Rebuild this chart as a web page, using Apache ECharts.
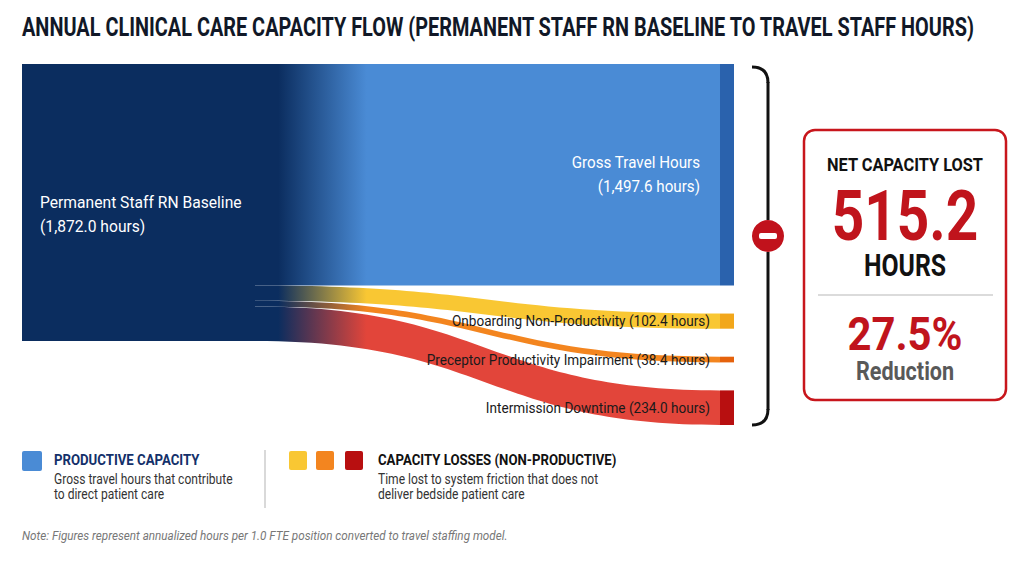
<!DOCTYPE html>
<html><head><meta charset="utf-8">
<script src="https://cdn.jsdelivr.net/npm/echarts@6/dist/echarts.min.js"></script>
<style>html,body{margin:0;padding:0;background:#fff}#chart{width:1024px;height:562px}</style>
</head><body><div id="chart"></div>
<script>
// ---------- data ----------
const titleText = 'ANNUAL CLINICAL CARE CAPACITY FLOW (PERMANENT STAFF RN BASELINE TO TRAVEL STAFF HOURS)';
const sourceName = 'Permanent Staff RN Baseline';
const sourceHours = 1872.0;
const targetNames = ['Gross Travel Hours', 'Onboarding Non-Productivity', 'Preceptor Productivity Impairment', 'Intermission Downtime'];
const targetHours = [1497.6, 102.4, 38.4, 234.0];
const flowColors = ['#4a8bd5', '#f9c733', '#f3851f', '#e2453a'];
const nodeColors = ['#2a62ad', '#f2a71b', '#e5620c', '#b80f10'];
const netLostHours = 515.2;
const reductionPct = 27.5;
const legendTitles = ['PRODUCTIVE CAPACITY', 'CAPACITY LOSSES (NON-PRODUCTIVE)'];
const legendTexts = ['Gross travel hours that contribute\nto direct patient care', 'Time lost to system friction that does not\ndeliver bedside patient care'];
const noteText = 'Note: Figures represent annualized hours per 1.0 FTE position converted to travel staffing model.';

// ---------- layout ----------
const NAVY = '#0b2d5f';
const FONT = 'Roboto, "Noto Sans", sans-serif';
const gridTop = 64, gridBottom = 137, chartH = 562;
const gridH = chartH - gridTop - gridBottom;
const gapPx = 28;
const sumT = targetHours.reduce((a, b) => a + b, 0);
const yMax = sumT / (1 - (targetHours.length - 1) * gapPx / gridH);
const gapH = gapPx * yMax / gridH;
const SRC_X1 = 233 / 712, NODE_X0 = 698 / 712;

const fmt = v => v.toLocaleString('en-US', {minimumFractionDigits: 1, maximumFractionDigits: 1});

let sCum = 0, tCum = 0;
const linkData = targetHours.map((v, i) => {
  const row = [i, sCum, sCum + v, tCum, tCum + v];
  sCum += v; tCum += v + gapH;
  return row;
});

const chart = echarts.init(document.getElementById('chart'), null, {renderer: 'svg'});

function txt(x, y, text, font, fill, opts) {
  opts = opts || {};
  return {type: 'text', x: x, y: y, scaleX: opts.sx || 1, z: 10,
    style: {text: text, x: 0, y: 0, font: font, fill: fill, align: opts.align || 'left',
      verticalAlign: opts.va || 'middle', lineHeight: opts.lh}};
}

const bracketStyle = {stroke: '#111', lineWidth: 3, fill: null};
const graphics = [
  txt(22, 28, titleText, 'bold 25px ' + FONT, '#111827', {sx: 0.796}),
  // bracket
  {type: 'bezierCurve', shape: {x1: 752, y1: 67, cpx1: 768, cpy1: 67, x2: 768, y2: 83}, style: bracketStyle},
  {type: 'line', shape: {x1: 768, y1: 82, x2: 768, y2: 220}, style: bracketStyle},
  {type: 'line', shape: {x1: 768, y1: 252, x2: 768, y2: 410}, style: bracketStyle},
  {type: 'bezierCurve', shape: {x1: 768, y1: 409, cpx1: 768, cpy1: 425, x2: 752, y2: 425}, style: bracketStyle},
  {type: 'circle', shape: {cx: 768, cy: 236, r: 16}, style: {fill: '#c1121c'}},
  {type: 'rect', shape: {x: 759, y: 233, width: 18, height: 6, r: 2}, style: {fill: '#fff'}},
  // result box
  {type: 'rect', shape: {x: 804, y: 130, width: 202, height: 270, r: 11}, style: {fill: '#fff', stroke: '#c8161c', lineWidth: 2.5}},
  txt(905, 165, 'NET CAPACITY LOST', 'bold 18px ' + FONT, '#111', {align: 'center', sx: 0.91}),
  txt(905, 216, fmt(netLostHours), 'bold 70px ' + FONT, '#c0141c', {align: 'center', sx: 0.81}),
  txt(905, 266, 'HOURS', 'bold 31px ' + FONT, '#111', {align: 'center', sx: 0.8}),
  {type: 'line', shape: {x1: 818, y1: 295, x2: 993, y2: 295}, style: {stroke: '#cfcfcf', lineWidth: 1.5}},
  txt(905, 334, fmt(reductionPct) + '%', 'bold 47px ' + FONT, '#c0141c', {align: 'center', sx: 0.89}),
  txt(905, 371, 'Reduction', 'bold 26px ' + FONT, '#595959', {align: 'center', sx: 0.83}),
  // legend
  {type: 'rect', shape: {x: 22, y: 451, width: 20, height: 20, r: 2}, style: {fill: flowColors[0]}},
  txt(54, 460, legendTitles[0], 'bold 15px ' + FONT, '#13306a', {sx: 0.88}),
  txt(54, 487, legendTexts[0], '14px ' + FONT, '#333', {sx: 0.86, lh: 15}),
  {type: 'line', shape: {x1: 265, y1: 450, x2: 265, y2: 508}, style: {stroke: '#cccccc', lineWidth: 1.5}},
  {type: 'rect', shape: {x: 289, y: 451, width: 18, height: 19, r: 2}, style: {fill: flowColors[1]}},
  {type: 'rect', shape: {x: 316, y: 451, width: 18, height: 19, r: 2}, style: {fill: flowColors[2]}},
  {type: 'rect', shape: {x: 345, y: 451, width: 18, height: 19, r: 2}, style: {fill: nodeColors[3]}},
  txt(378, 460, legendTitles[1], 'bold 15px ' + FONT, '#111', {sx: 0.88}),
  txt(378, 487, legendTexts[1], '14px ' + FONT, '#333', {sx: 0.86, lh: 15}),
  txt(22, 536, noteText, 'italic 13px ' + FONT, '#777', {sx: 0.9})
];

chart.setOption({
  animation: false,
  backgroundColor: '#fff',
  grid: {left: 22, right: 290, top: gridTop, bottom: gridBottom},
  xAxis: {type: 'value', min: 0, max: 1, show: false},
  yAxis: {type: 'value', min: 0, max: yMax, inverse: true, show: false},
  graphic: graphics,
  series: [
    {
      type: 'custom', name: 'Source', data: [[0, 0, sourceHours]],
      renderItem: function (params, api) {
        const p0 = api.coord([0, api.value(1)]);
        const p1 = api.coord([SRC_X1, api.value(2)]);
        return {type: 'group', children: [
          {type: 'rect', shape: {x: p0[0], y: p0[1], width: p1[0] - p0[0], height: p1[1] - p0[1]}, style: {fill: NAVY}},
          {type: 'text', x: p0[0] + 18, y: (p0[1] + p1[1]) / 2 + 12, scaleX: 0.92,
            style: {text: sourceName + '\n(' + fmt(sourceHours) + ' hours)', x: 0, y: 0, fill: '#fff',
              font: '17px ' + FONT, verticalAlign: 'middle', align: 'left', lineHeight: 24}}
        ]};
      }
    },
    {
      type: 'custom', name: 'Flows', data: linkData,
      renderItem: function (params, api) {
        const i = api.value(0);
        const a0 = api.coord([SRC_X1, api.value(1)]);
        const a1 = api.coord([SRC_X1, api.value(2)]);
        const b0 = api.coord([NODE_X0, api.value(3)]);
        const b1 = api.coord([NODE_X0, api.value(4)]);
        const x0 = a0[0], x1 = b0[0], xm = (x0 + x1) / 2;
        const d = 'M' + x0 + ',' + a0[1] + ' C' + xm + ',' + a0[1] + ' ' + xm + ',' + b0[1] + ' ' + x1 + ',' + b0[1] +
          ' L' + x1 + ',' + b1[1] + ' C' + xm + ',' + b1[1] + ' ' + xm + ',' + a1[1] + ' ' + x0 + ',' + a1[1] + ' Z';
        return {type: 'path', shape: {pathData: d},
          style: {fill: new echarts.graphic.LinearGradient(0, 0, 1, 0, [
            {offset: 0, color: NAVY}, {offset: 0.05, color: NAVY}, {offset: 0.24, color: flowColors[i]}, {offset: 1, color: flowColors[i]}])}};
      }
    },
    {
      type: 'custom', name: 'Targets', data: linkData,
      renderItem: function (params, api) {
        const i = api.value(0);
        const p0 = api.coord([NODE_X0, api.value(3)]);
        const p1 = api.coord([1, api.value(4)]);
        const cy = (p0[1] + p1[1]) / 2;
        const label = i === 0 ? targetNames[i] + '\n(' + fmt(targetHours[i]) + ' hours)'
                              : targetNames[i] + ' (' + fmt(targetHours[i]) + ' hours)';
        return {type: 'group', children: [
          {type: 'rect', shape: {x: p0[0], y: p0[1], width: p1[0] - p0[0], height: p1[1] - p0[1]}, style: {fill: nodeColors[i]}},
          {type: 'text', x: p0[0] - (i === 0 ? 20 : 10), y: cy, scaleX: i === 0 ? 0.95 : 0.905,
            style: {text: label, x: 0, y: 0, fill: i === 0 ? '#fff' : '#1a1a1a', font: (i === 0 ? '16px ' : '15px ') + FONT,
              align: 'right', verticalAlign: 'middle', lineHeight: 24}}
        ]};
      }
    }
  ]
});
</script></body></html>
